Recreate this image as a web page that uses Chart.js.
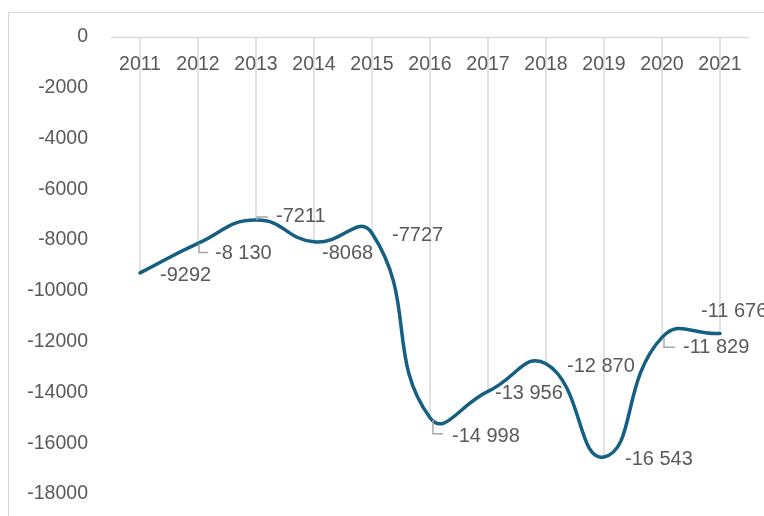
<!DOCTYPE html>
<html>
<head>
<meta charset="utf-8">
<script src="https://cdn.jsdelivr.net/npm/chart.js@4.4.0/dist/chart.umd.min.js"></script>
<style>
    html, body { margin: 0; padding: 0; background: #fff; }
    #wrap { position: relative; width: 764px; height: 516px; overflow: hidden; }
</style>
</head>
<body>
<div id="wrap"><canvas id="chart" width="764" height="516"></canvas></div>
<script>
// --- DATA ---
const years = ['2011', '2012', '2013', '2014', '2015', '2016', '2017', '2018', '2019', '2020', '2021'];
const balance = [-9292, -8130, -7211, -8068, -7727, -14998, -13956, -12870, -16543, -11829, -11676];
const valueLabels = ['-9292', '-8 130', '-7211', '-8068', '-7727', '-14 998', '-13 956', '-12 870', '-16 543', '-11 829', '-11 676'];
const yMin = -18000;
const yMax = 0;
const yStep = 2000;

// --- LABEL PLACEMENT (offsets from each point, px) ---
const labelOffsets = [[20, 3], [17, 10], [20, -4], [8, 12], [20, 2], [22, 19], [7, 2], [21, 3], [21, 2], [21, 10], [-19, -22]];
const leaders = [
    null,
    [[1, 0], [1, 9], [10, 9]],
    [[1, 0], [1, -3], [12, -3]],
    null, null,
    [[3, 2], [3, 16], [13, 16]],
    null, null, null,
    [[2, 1], [2, 10], [13, 10]],
    null
];

const FONT = '"Liberation Sans", Arial, sans-serif';
const TEXT = '#595959';
const GRID = '#d9d9d9';

const decorations = {
    id: 'decorations',
    beforeDraw(chart) {
        const ctx = chart.ctx;
        ctx.save();
        ctx.fillStyle = '#fff';
        ctx.fillRect(0, 0, chart.width, chart.height);
        ctx.strokeStyle = GRID;
        ctx.lineWidth = 1;
        ctx.strokeRect(8.5, 12.5, 900, 900);
        ctx.restore();
    },
    beforeDatasetsDraw(chart) {
        const ctx = chart.ctx;
        const area = chart.chartArea;
        const y0 = chart.scales.y.getPixelForValue(0);
        const pts = chart.getDatasetMeta(0).data;
        ctx.save();
        ctx.strokeStyle = GRID;
        ctx.lineWidth = 1.5;
        // drop lines from the category axis to each point
        pts.forEach(p => {
            ctx.beginPath();
            ctx.moveTo(Math.round(p.x), y0);
            ctx.lineTo(Math.round(p.x), p.y);
            ctx.stroke();
        });
        // category axis at zero
        ctx.beginPath();
        ctx.moveTo(area.left, Math.round(y0) + 0.5);
        ctx.lineTo(area.right, Math.round(y0) + 0.5);
        ctx.stroke();
        // category labels just under the axis
        ctx.fillStyle = TEXT;
        ctx.font = '19.5px ' + FONT;
        ctx.textAlign = 'center';
        ctx.textBaseline = 'middle';
        years.forEach((yr, i) => {
            ctx.fillText(yr, chart.scales.x.getPixelForTick(i), y0 + 28);
        });
        ctx.restore();
    },
    afterDatasetsDraw(chart) {
        const ctx = chart.ctx;
        const pts = chart.getDatasetMeta(0).data;
        ctx.save();
        ctx.strokeStyle = '#a6a6a6';
        ctx.lineWidth = 1.5;
        ctx.fillStyle = TEXT;
        ctx.font = '20px ' + FONT;
        ctx.textAlign = 'left';
        ctx.textBaseline = 'middle';
        pts.forEach((p, i) => {
            const lead = leaders[i];
            if (lead) {
                ctx.beginPath();
                lead.forEach(([dx, dy], k) => {
                    if (k === 0) ctx.moveTo(p.x + dx, p.y + dy);
                    else ctx.lineTo(p.x + dx, p.y + dy);
                });
                ctx.stroke();
            }
            const [ox, oy] = labelOffsets[i];
            ctx.fillText(valueLabels[i], p.x + ox, p.y + oy);
        });
        ctx.restore();
    }
};

new Chart(document.getElementById('chart'), {
    type: 'line',
    data: {
        labels: years,
        datasets: [{
            data: balance,
            borderColor: '#156082',
            borderWidth: 3.5,
            borderCapStyle: 'round',
            pointRadius: 0,
            tension: 0.5,
            fill: false,
            clip: false
        }]
    },
    options: {
        responsive: false,
        animation: false,
        layout: { padding: { top: 37, right: 15, bottom: 22, left: 0 } },
        plugins: { legend: { display: false }, tooltip: { enabled: false } },
        scales: {
            x: {
                display: false,
                offset: true,
                afterFit: scale => { scale.height = 0; }
            },
            y: {
                min: yMin,
                max: yMax,
                ticks: {
                    stepSize: yStep,
                    padding: 23,
                    color: TEXT,
                    font: { size: 19.5, family: FONT },
                    callback: v => String(v)
                },
                grid: { display: false, drawTicks: false },
                border: { display: false },
                afterFit: scale => {
                    scale.width = 111;
                    scale.paddingTop = 0;
                    scale.paddingBottom = 0;
                }
            }
        }
    },
    plugins: [decorations]
});
</script>
</body>
</html>
